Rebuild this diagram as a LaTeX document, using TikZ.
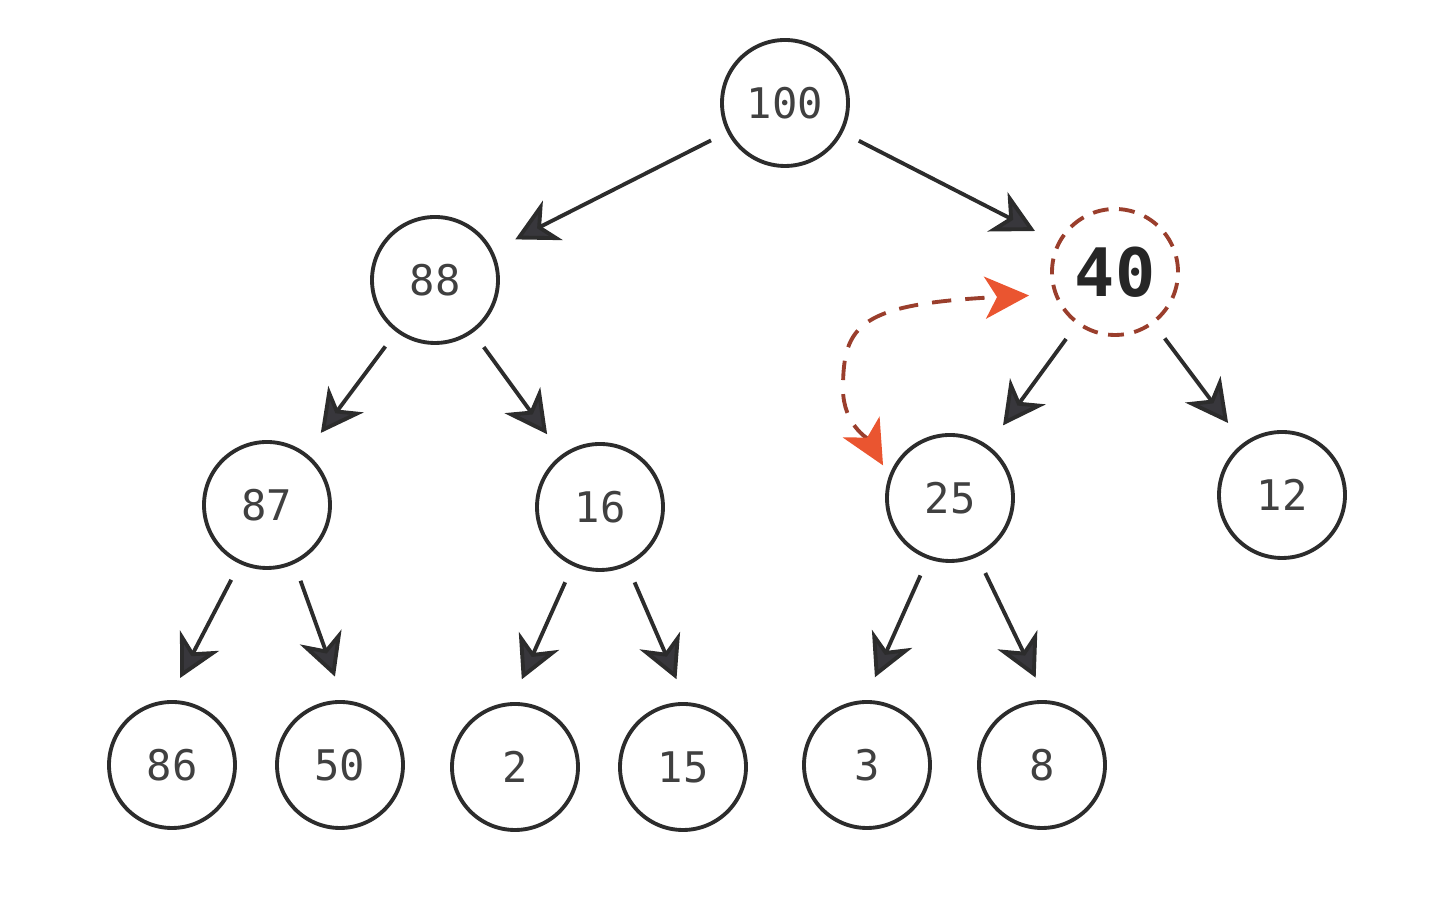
\documentclass[tikz,border=0pt]{standalone}
\usepackage{xcolor}
\usepackage{fontspec}
\setmonofont{DejaVu Sans Mono}
\usepackage{tikz}
\usetikzlibrary {arrows.meta}

\definecolor{linegray}{HTML}{2C2C2C}
\definecolor{headgray}{HTML}{38373C}
\definecolor{swapline}{HTML}{9A3E2C}
\definecolor{swaptip}{HTML}{EA5530}

\begin{document}
\begin{tikzpicture}[
        key/.style={circle, draw=linegray, line width=1.1pt, minimum size=1.26cm,
            inner sep=0pt, font=\ttfamily\fontsize{12}{14}\selectfont, text=black!75},
        hot/.style={key, draw=swapline, dash pattern=on 4.5pt off 3pt,
            font=\ttfamily\bfseries\fontsize{19}{22}\selectfont, text=black!85},
        edge/.style={line width=1.1pt, draw=linegray, shorten <=0.18cm, shorten >=0.25cm,
            -{Stealth[length=4.2mm, width=4.4mm, inset=1.3mm, fill=headgray]}},
        swap/.style={line width=1.1pt, draw=swapline, dash pattern=on 5.5pt off 4pt,
            shorten <=0.12cm, shorten >=0.25cm,
            {Stealth[length=4.4mm, width=4.2mm, inset=1.2mm, color=swaptip]}-{Stealth[length=4.4mm, width=4.2mm, inset=1.2mm, color=swaptip]}}
    ]
        \useasboundingbox (0,0) rectangle (14.4,9.04);

        % Heap nodes.
        \draw (7.85,8.01) node[key] (k100) {100}
            (4.35,6.24) node[key] (k88) {88}
            (11.15,6.32) node[hot] (k40) {40}
            (2.67,3.99) node[key] (k87) {87}
            (6.00,3.97) node[key] (k16) {16}
            (9.50,4.06) node[key] (k25) {25}
            (12.82,4.09) node[key] (k12) {12}
            (1.72,1.39) node[key] (k86) {86}
            (3.40,1.39) node[key] (k50) {50}
            (5.15,1.37) node[key] (k2) {2}
            (6.83,1.37) node[key] (k15) {15}
            (8.67,1.39) node[key] (k3) {3}
            (10.42,1.39) node[key] (k8) {8};

        % Parent to child links.
        \draw[edge] (k100) -- (k88);
        \draw[edge] (k100) -- (k40);
        \draw[edge] (k88) -- (k87);
        \draw[edge] (k88) -- (k16);
        \draw[edge] (k40) -- (k25);
        \draw[edge] (k40) -- (k12);
        \draw[edge] (k87.245) -- (k86.93);
        \draw[edge] (k87.295) -- (k50.87);
        \draw[edge] (k16.245) -- (k2.93);
        \draw[edge] (k16.295) -- (k15.87);
        \draw[edge] (k25.250) -- (k3.92);
        \draw[edge] (k25.295) -- (k8.86);

        % Swap marker.
        \draw[swap] (k25.160) .. controls (8.68,4.65) and (8.43,4.80) .. (8.43,5.15)
            .. controls (8.43,5.80) and (8.60,6.00) .. (k40.200);
    \end{tikzpicture}
\end{document}
